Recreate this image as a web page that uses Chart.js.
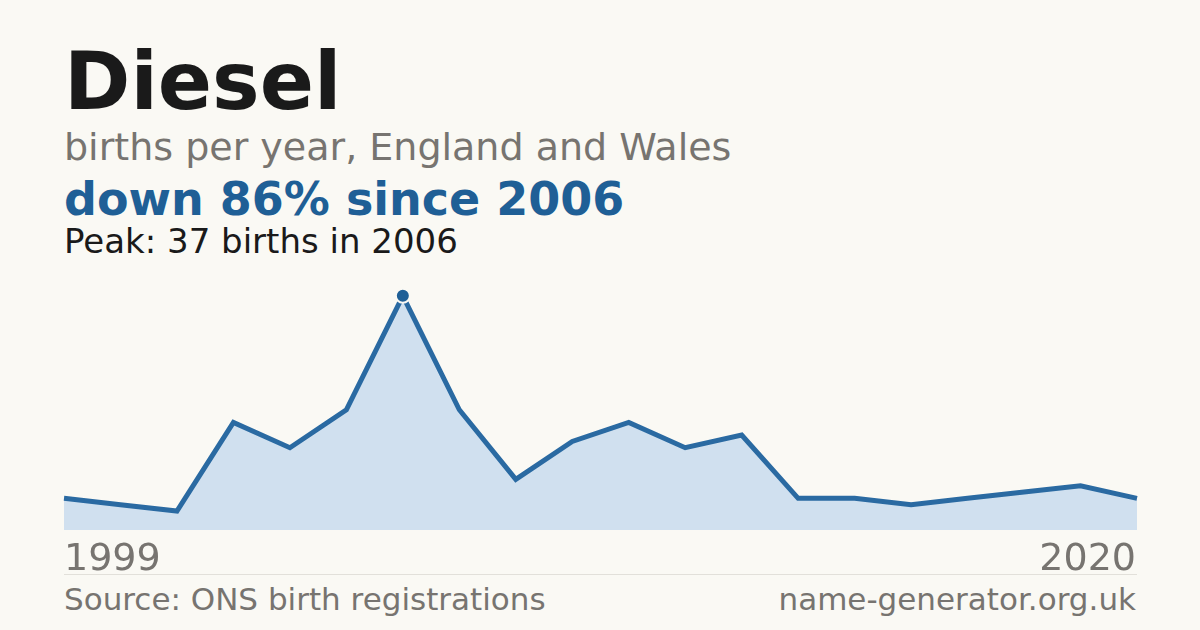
<!DOCTYPE html>
<html><head><meta charset="utf-8">
<script src="https://cdn.jsdelivr.net/npm/chart.js@4/dist/chart.umd.min.js"></script>
<style>
body{margin:0;width:1200px;height:630px;background:#faf9f4;font-family:"DejaVu Sans",sans-serif;position:relative;overflow:hidden}
.t{position:absolute;left:64px;white-space:nowrap;line-height:1}
#wrap{position:absolute;left:56px;top:272px;width:1089px;height:266px}
</style></head><body>
<div class="t" style="top:42px;font-size:80px;font-weight:bold;color:#1a1a1a">Diesel</div>
<div class="t" style="top:128px;font-size:38px;color:#777470">births per year, England and Wales</div>
<div class="t" style="top:176px;font-size:46px;font-weight:bold;color:#1f5f96">down 86% since 2006</div>
<div class="t" style="top:224px;font-size:34px;color:#1a1a1a">Peak: 37 births in 2006</div>
<div id="wrap"><canvas id="c"></canvas></div>
<div class="t" style="top:538px;font-size:38px;color:#777470">1999</div>
<div class="t" style="top:538px;left:auto;right:64px;font-size:38px;color:#777470">2020</div>
<div style="position:absolute;left:64px;width:1073px;top:574px;height:1px;background:#e2e0da"></div>
<div class="t" style="top:584px;font-size:31px;color:#777470">Source: ONS birth registrations</div>
<div class="t" style="top:584px;left:auto;right:64px;font-size:31px;color:#777470">name-generator.org.uk</div>
<script>
const years=["1999","2000","2001","2002","2003","2004","2005","2006","2007","2008","2009","2010","2011","2012","2013","2014","2015","2016","2017","2020"];
const births=[5,4,3,17,13,19,37,19,8,14,17,13,15,5,5,4,5,6,7,5];
const peakIndex=births.indexOf(Math.max(...births));
new Chart(document.getElementById('c'),{
type:'line',
data:{labels:years,datasets:[{data:births,borderColor:'#2a6aa2',borderWidth:5,fill:true,backgroundColor:'#d0e0ef',tension:0,
pointRadius:births.map((v,i)=>i===peakIndex?7:0),pointBackgroundColor:'#1f5f96',pointBorderColor:'#faf9f4',pointBorderWidth:2}]},
options:{responsive:true,maintainAspectRatio:false,animation:false,
layout:{padding:{left:8,right:8,top:8,bottom:8}},
plugins:{legend:{display:false},tooltip:{enabled:false}},
scales:{x:{display:false,offset:false},y:{display:false,min:0,max:39.5}}}
});
</script>
</body></html>
